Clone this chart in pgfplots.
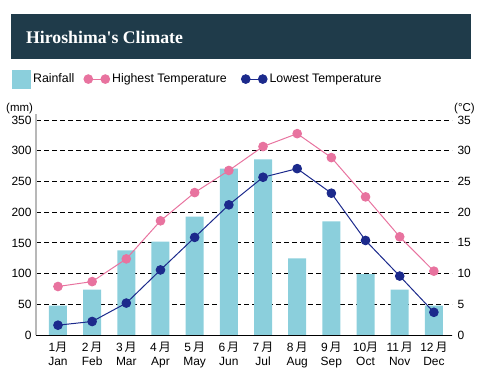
\documentclass[border=0pt]{standalone}
\usepackage{pgfplots}
\pgfplotsset{compat=1.18}
\usepackage{pgfplotstable}
\usepackage{fontspec}
\setmainfont{Liberation Sans}
\newfontfamily\cjk{Noto Sans CJK JP}
\newfontfamily\titlefont{Liberation Serif}
\definecolor{rain}{HTML}{8BCFDC}
\definecolor{hi}{HTML}{E8739F}
\definecolor{lo}{HTML}{1C2A8C}
\definecolor{banner}{HTML}{1F3B4A}
\pgfplotsset{
  dotline legend/.style={legend image code/.code={\draw[##1] plot coordinates {(0bp,0bp) (17bp,0bp)};}},
  square legend/.style={legend image code/.code={\fill[rain] (0bp,-9bp) rectangle (18bp,9bp);}},
}
\pgfplotstableread{
x rain hi lo
0 48 7.9 1.6
1 74 8.7 2.2
2 138 12.4 5.2
3 152 18.6 10.6
4 193 23.2 15.9
5 271 26.8 21.2
6 286 30.7 25.7
7 125 32.8 27.1
8 185 28.9 23.1
9 99 22.5 15.4
10 74 16.0 9.6
11 48 10.4 3.7
}\climate
\begin{document}
\begin{tikzpicture}
\path[use as bounding box] (0bp,0bp) rectangle (480bp,385bp);
\fill[banner] (11bp,326bp) rectangle (471bp,371bp);
\node[anchor=west,text=white,font=\titlefont\bfseries\fontsize{17.8}{19}\selectfont,inner sep=0pt] at (26bp,347.5bp) {Hiroshima's Climate};
\begin{axis}[
  at={(36bp,50bp)}, anchor=south west, scale only axis,
  width=416bp, height=221bp,
  xmin=-0.643, xmax=11.53, ymin=0, ymax=360,
  axis x line*=bottom, axis y line*=left,
  x axis line style={-, black, line width=1bp},
  y axis line style={-, black!28, line width=2bp},
  major tick length=0pt,
  ytick={0,50,...,350},
  xtick={0,...,11},
  xticklabels={{1{\cjk 月}\\Jan},{2\,{\cjk 月}\\Feb},{3\,{\cjk 月}\\Mar},{4\,{\cjk 月}\\Apr},{5\,{\cjk 月}\\May},{6\,{\cjk 月}\\Jun},{7\,{\cjk 月}\\Jul},{8\,{\cjk 月}\\Aug},{9\,{\cjk 月}\\Sep},{10{\cjk 月}\\Oct},{11\,{\cjk 月}\\Nov},{12\,{\cjk 月}\\Dec}},
  xticklabel style={align=center, font=\fontsize{12}{13.5}\selectfont, yshift=-4bp},
  yticklabel style={font=\fontsize{12}{12}\selectfont, xshift=-1bp},
  /pgf/number format/assume math mode=true,
  ymajorgrids, grid style={black, line width=0.9bp, dash pattern=on 5bp off 3bp},
  ybar, bar width=18bp,
]
\addplot[fill=rain, draw=none, bar shift=0pt] table[x=x,y=rain]{\climate};
\end{axis}
\begin{axis}[
  at={(36bp,50bp)}, anchor=south west, scale only axis,
  width=416bp, height=221bp,
  xmin=-0.643, xmax=11.53, ymin=0, ymax=36,
  axis x line=none, axis y line*=right,
  y axis line style={draw=none},
  major tick length=0pt,
  ytick={0,5,...,35},
  yticklabel style={font=\fontsize{12}{12}\selectfont, xshift=2bp},
  /pgf/number format/assume math mode=true,
  legend columns=3,
  legend style={at={(-0.0577,1.158)}, anchor=west, draw=none, fill=none, inner sep=0pt,
    font=\fontsize{12.4}{13}\selectfont,
    nodes={inner sep=0pt},
    /tikz/every odd column/.append style={column sep=2.5bp},
    /tikz/every even column/.append style={column sep=9.7bp}},
]
\addlegendimage{square legend}
\addlegendentry{Rainfall}
\addlegendimage{hi, line width=1bp, mark=*, mark size=4.3bp, dotline legend}
\addlegendentry{Highest Temperature\rule{5bp}{0pt}}
\addlegendimage{lo, line width=1bp, mark=*, mark size=4.3bp, dotline legend}
\addlegendentry{Lowest Temperature}
\addplot[hi, line width=1bp, mark=*, mark size=4.3bp, forget plot] table[x=x,y=hi]{\climate};
\addplot[lo, line width=1bp, mark=*, mark size=4.3bp, forget plot] table[x=x,y=lo]{\climate};
\end{axis}
\node[anchor=south west, inner sep=0pt, font=\fontsize{11.5}{12}\selectfont] at (6bp,271bp) {(mm)};
\node[anchor=south west, inner sep=0pt, font=\fontsize{11.5}{12}\selectfont] at (454bp,271bp) {(°C)};
\end{tikzpicture}
\end{document}
